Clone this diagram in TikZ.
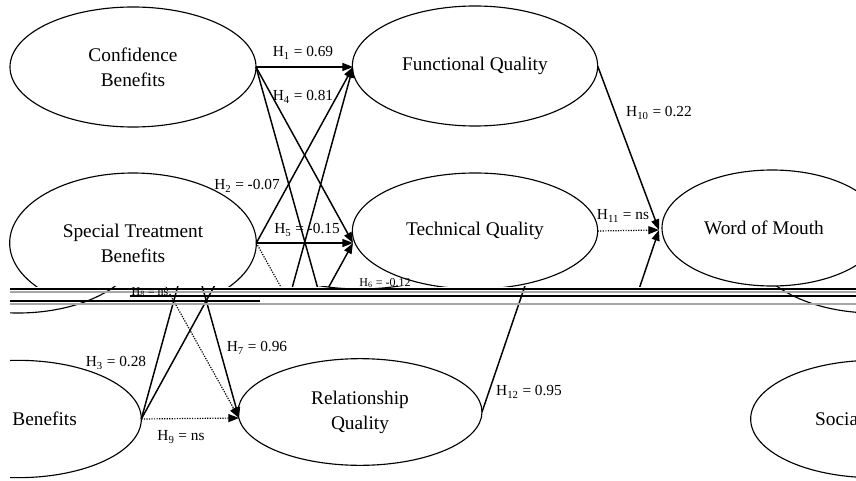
\documentclass[tikz,border=0pt]{standalone}
\usepackage{fontspec}
\setmainfont{Liberation Serif}
\usetikzlibrary{arrows.meta,shapes.geometric}
\tikzset{
  ell/.style={ellipse, draw, line width=0.85pt, inner sep=0pt, outer sep=0pt, align=center,
              font=\fontsize{14.5}{18.75}\selectfont},
  cbsize/.style={minimum width=184.5pt, minimum height=90pt},
  fqsize/.style={minimum width=184pt, minimum height=90pt},
  stbsize/.style={minimum width=185pt, minimum height=105pt},
  tqsize/.style={minimum width=184pt, minimum height=87pt},
  womsize/.style={minimum width=165pt, minimum height=87pt},
  sbsize/.style={minimum width=185pt, minimum height=88pt},
  rqsize/.style={minimum width=183pt, minimum height=80pt},
  lbl/.style={inner sep=0pt, font=\fontsize{11.5}{13}\selectfont},
  conn/.style={line width=1.1pt, -{Triangle[length=8pt,width=6pt]}},
  dotconn/.style={line width=0.9pt, densely dotted, -{Triangle[length=8pt,width=6pt]}},
  streakdark/.style={line width=0.9pt, black},
  streaklight/.style={line width=1.4pt, black!35},
}
\newcommand{\hs}[1]{\textsubscript{#1}}
\begin{document}
\begin{tikzpicture}[x=0.75pt,y=-0.75pt]
  \useasboundingbox (0,0) rectangle (856,481);
  \fill[white] (0,0) rectangle (856,481);
  % ---------------- upper part, in place ----------------
  \begin{scope}
    \clip (0,0) rectangle (856,286);
    \node[ell, cbsize] (cb) at (133,67) {Confidence\\Benefits};
    \node[ell, fqsize] (fq) at (475,66) {Functional Quality};
    \node[ell, stbsize] (stb) at (133,243) {Special Treatment\\Benefits};
    \node[ell, tqsize] (tq) at (475,231) {Technical Quality};
    \node[ell, womsize] (wom) at (772,228) {Word of Mouth\hspace*{12pt}};
    \coordinate (sbout) at (256,419);
    \coordinate (rqout) at (597.5,412);
    \coordinate (fqin) at (353,67);
    \coordinate (tqin) at (353,243);
    \coordinate (rqin) at (354,418);
    \coordinate (womin) at (659,230);
    \draw[conn] (cb.east) -- (fqin);
    \draw[conn] (cb.east) -- (tqin);
    \draw[conn] (cb.east) -- (rqin);
    \draw[conn] (stb.east) -- (fqin);
    \draw[conn] (stb.east) -- (tqin);
    \draw[dotconn] (stb.east) -- (rqin);
    \draw[conn] (sbout) -- (fqin);
    \draw[conn] (sbout) -- (tqin);
    \draw[conn] (fq.east) -- (womin);
    \draw[dotconn] (tq.east) -- (womin);
    \draw[conn] (rqout) -- (womin);
  \end{scope}
  \node[lbl] (h1) at (303,53) {H\hs{1} = 0.69};
  \node[lbl] (h4) at (303,97) {H\hs{4} = 0.81};
  \node[lbl] (h2) at (247,186) {H\hs{2} = -0.07};
  \node[lbl] (h5) at (307,230) {H\hs{5} = -0.15};
  \node[lbl] (h10) at (659,113) {H\hs{10} = 0.22};
  \node[lbl] (h11) at (623,216) {H\hs{11} = ns};
  % ---------------- lower part, shifted left with wrap-around ----------------
  \begin{scope}
    \clip (10,286) rectangle (856,481);
    \begin{scope}[xshift=-86.25pt]
      \node[ell, stbsize] (bstb) at (133,243) {};
      \node[ell, tqsize] (btq) at (475,231) {};
      \node[ell, sbsize] (bsb) at (133,419) {Social Benefits};
      \node[ell, rqsize] (brq) at (475,412) {Relationship\\Quality};
      \coordinate (bcbout) at (256,67);
      \coordinate (bfqin) at (353,67);
      \coordinate (btqin) at (353,243);
      \coordinate (brqin) at (354,418);
      \coordinate (bwomin) at (659,230);
      \draw[conn] (bcbout) -- (brqin);
      \draw[dotconn] (bstb.east) -- (brqin);
      \draw[conn] (bsb.east) -- (bfqin);
      \draw[conn] (bsb.east) -- (btqin);
      \draw[dotconn] (bsb.east) -- (brqin);
      \draw[conn] (brq.east) -- (bwomin);
    \end{scope}
    \begin{scope}[xshift=555.75pt]
      \node[ell, stbsize] (wstb) at (133,243) {};
      \node[ell, sbsize] (wsb) at (133,419) {Social Benefits};
    \end{scope}
  \end{scope}
  \node[lbl] (h3) at (116,363) {H\hs{3} = 0.28};
  \node[lbl] (h7) at (257,348) {H\hs{7} = 0.96};
  \node[lbl] (h9) at (181,437) {H\hs{9} = ns};
  \node[lbl] (h12) at (529,392) {H\hs{12} = 0.95};
  % ---------------- damaged band ----------------
  \coordinate (s1a) at (10,289);  \coordinate (s1b) at (856,289);
  \coordinate (s2a) at (10,292);  \coordinate (s2b) at (856,292);
  \coordinate (s3a) at (130,296); \coordinate (s3b) at (856,296);
  \coordinate (s4a) at (10,301);  \coordinate (s4b) at (260,301);
  \coordinate (s5a) at (10,304);  \coordinate (s5b) at (856,304);
  \draw[streakdark] (s1a) -- (s1b);
  \draw[streaklight] (s2a) -- (s2b);
  \draw[streakdark] (s3a) -- (s3b);
  \draw[streakdark] (s4a) -- (s4b);
  \draw[streaklight] (s5a) -- (s5b);
  \node[lbl, font=\fontsize{9}{10}\selectfont] (h8) at (150,292) {H\hs{8} = ns};
  \node[lbl, font=\fontsize{9}{10}\selectfont] (h6) at (385,283) {H\hs{6} = -0.12};
\end{tikzpicture}
\end{document}
